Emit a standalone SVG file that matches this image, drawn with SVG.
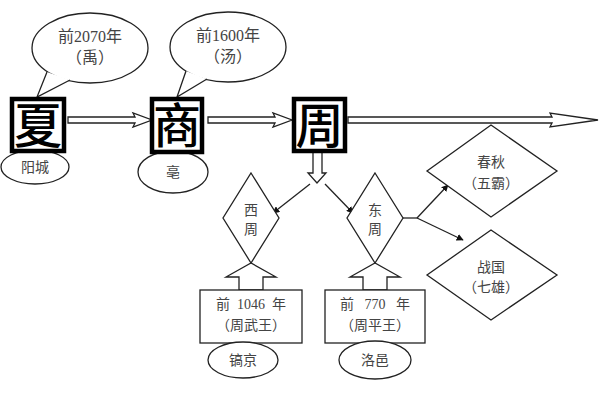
<svg xmlns="http://www.w3.org/2000/svg" width="600" height="400" viewBox="0 0 600 400">
<defs>
<style>
.ln{fill:none;stroke:#222;stroke-width:1.3}
.sh{fill:#fff;stroke:#222;stroke-width:1.3}
.t{font-family:"Liberation Serif","Noto Sans CJK SC",serif;font-size:14px;fill:#444;text-anchor:middle}
.tb{font-size:16px}
.big{font-family:"Noto Sans CJK SC",sans-serif;font-size:48px;font-weight:500;fill:#000;text-anchor:middle}
.frame{fill:#fff;stroke:#000;stroke-width:4.5}
</style>
<marker id="ah" viewBox="0 0 10 10" refX="9" refY="5" markerWidth="7" markerHeight="7" orient="auto" markerUnits="userSpaceOnUse">
<path d="M0,0 L10,5 L0,10 z" fill="#111"/>
</marker>
</defs>
<rect width="600" height="400" fill="#fff"/>

<g id="connectors">
<polygon class="sh" points="68,117 135,117 133,113 152,120 133,127 135,123 68,123"/>
<polygon class="sh" points="208,117 275,117 273,113 292,120 273,127 275,123 208,123"/>
<polygon class="sh" points="348,117 552,117 550,113 598,120 550,127 552,123 348,123"/>
<polygon class="sh" points="313,152 313,173 308,173 317,183 326,173 322,173 322,152"/>
<line class="ln" x1="310" y1="184" x2="273" y2="213" marker-end="url(#ah)"/>
<line class="ln" x1="325" y1="184" x2="353" y2="213" marker-end="url(#ah)"/>
<polygon class="sh" points="239,290 239,277 226,277 251,263 276,277 263,277 263,290"/>
<polygon class="sh" points="363,290 363,277 350,277 375,263 400,277 387,277 387,290"/>
<polyline class="ln" points="403,218 417,218"/>
<line class="ln" x1="417" y1="218" x2="448" y2="185" marker-end="url(#ah)"/>
<line class="ln" x1="417" y1="218" x2="463" y2="240" marker-end="url(#ah)"/>
</g>

<g id="bubble-xia">
<ellipse class="sh" cx="90" cy="48" rx="58" ry="35"/>
<path d="M47,72 L37,97 L70,80" fill="#fff" stroke="#222" stroke-width="1.3"/>
<text class="t tb" x="90" y="42">前2070年</text>
<text class="t tb" x="90" y="63">（禹）</text>
</g>
<g id="bubble-shang">
<ellipse class="sh" cx="228" cy="47" rx="58" ry="35"/>
<path d="M186,71 L177,97 L207,79" fill="#fff" stroke="#222" stroke-width="1.3"/>
<text class="t tb" x="228" y="41">前1600年</text>
<text class="t tb" x="228" y="62">（汤）</text>
</g>

<g id="yangcheng">
<ellipse class="sh" cx="35" cy="167" rx="34" ry="17"/>
<text class="t" x="35" y="172">阳城</text>
</g>
<g id="bo">
<ellipse class="sh" cx="173" cy="172" rx="35" ry="21"/>
<text class="t" x="173" y="177">亳</text>
</g>

<g id="xia">
<rect class="frame" x="12" y="99" width="52" height="52"/>
<text class="big" x="38" y="143">夏</text>
</g>
<g id="shang">
<rect class="frame" x="152" y="99" width="50" height="53"/>
<text class="big" x="177" y="143">商</text>
</g>
<g id="zhou">
<rect class="frame" x="294" y="99" width="51" height="52"/>
<text class="big" x="319.5" y="143">周</text>
</g>

<g id="xizhou">
<polygon class="sh" points="251,173 279,218 251,263 223,218"/>
<text class="t" x="251" y="215">西</text>
<text class="t" x="251" y="234">周</text>
</g>
<g id="dongzhou">
<polygon class="sh" points="375,173 403,218 375,263 347,218"/>
<text class="t" x="375" y="215">东</text>
<text class="t" x="375" y="234">周</text>
</g>

<g id="box-wuwang">
<rect class="sh" x="200" y="290" width="102" height="53"/>
<text class="t" x="251" y="309" xml:space="preserve">前  1046  年</text>
<text class="t" x="251" y="330">（周武王）</text>
</g>
<g id="box-pingwang">
<rect class="sh" x="325" y="290" width="100" height="53"/>
<text class="t" x="375" y="309" xml:space="preserve">前   770   年</text>
<text class="t" x="375" y="330">（周平王）</text>
</g>

<g id="haojing">
<ellipse class="sh" cx="243" cy="360" rx="35" ry="18"/>
<text class="t" x="243" y="365">镐京</text>
</g>
<g id="luoyi">
<ellipse class="sh" cx="375" cy="360" rx="36" ry="19"/>
<text class="t" x="375" y="365">洛邑</text>
</g>

<g id="chunqiu">
<polygon class="sh" points="491,125 557,171 491,217 427,171"/>
<text class="t" x="491" y="167">春秋</text>
<text class="t" x="491" y="188">（五霸）</text>
</g>
<g id="zhanguo">
<polygon class="sh" points="491,230 557,275 491,320 427,275"/>
<text class="t" x="491" y="272">战国</text>
<text class="t" x="491" y="292">（七雄）</text>
</g>
</svg>
